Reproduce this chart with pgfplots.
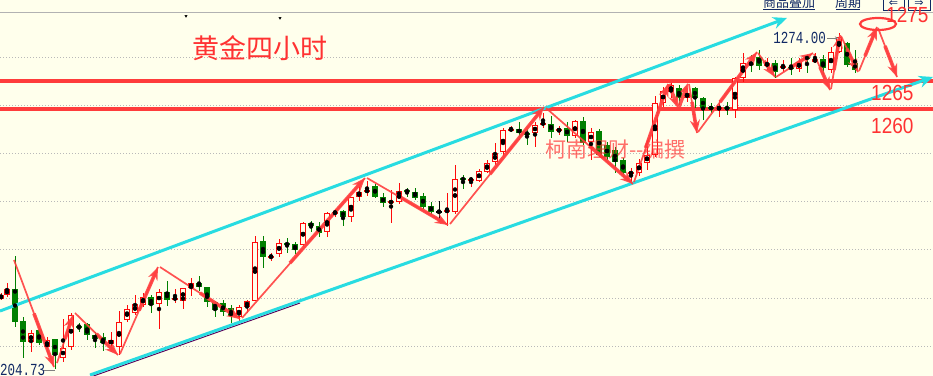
\documentclass[border=0pt]{standalone}
\usepackage{pgfplots}
\pgfplotsset{compat=1.18}
\usepackage{pgfplotstable}
\usepackage{graphicx}
\usepackage{fontspec}
\usetikzlibrary{arrows.meta}
\setmainfont{Liberation Sans}
\newfontfamily\cjk{Noto Sans CJK SC}
\newfontfamily\mono{Liberation Mono}
\newfontfamily\dejavu{DejaVu Sans}
\definecolor{bgc}{RGB}{255,255,236}
\definecolor{upred}{RGB}{255,10,10}
\definecolor{dngreen}{RGB}{0,128,0}
\definecolor{chan}{RGB}{40,220,225}
\definecolor{hline}{RGB}{255,60,60}
\definecolor{arrred}{RGB}{255,64,64}
\definecolor{txtred}{RGB}{255,50,50}
\definecolor{navy}{RGB}{16,40,100}

% candles in picture units: x, body top, body bottom, high, low (y grows downward)
\pgfplotstableread{
x t b h l
1 295 299 293 300
7 289 295 283 297
31 333 342 330 352
47 340 347 337 353
63 348 358 319 362
71 315 347 313 350
111 340 344 332 352
119 322 347 311 355
127 309 320 305 322
135 304 313 295 315
143 297 305 293 307
159 292 304 289 329
175 298 299 289 303
183 288 301 288 309
191 283 288 278 296
239 307 317 305 322
247 301 307 300 313
255 242 301 236 301
271 256 257 253 261
279 243 254 239 257
303 223 245 222 247
327 213 232 212 237
335 212 213 209 217
351 197 217 197 222
359 192 197 186 201
367 190 192 181 196
391 201 203 190 223
399 191 202 183 204
447 210 212 193 226
455 179 212 165 214
471 179 180 177 187
479 171 181 169 182
487 163 172 160 173
495 153 162 143 165
503 130 152 128 158
511 129 130 126 132
535 125 133 122 147
543 123 124 113 128
559 129 131 126 135
575 121 136 120 138
591 132 142 128 160
631 172 174 168 183
639 163 173 159 176
647 155 163 147 170
655 103 155 96 157
663 91 103 87 107
671 85 92 83 98
687 93 98 88 102
719 107 109 100 117
735 78 110 77 118
743 63 78 53 82
767 63 66 58 70
783 66 68 60 72
799 62 69 58 72
815 59 62 53 63
831 52 70 47 73
839 37 52 33 53
}\up

\pgfplotstableread{
x t b h l
15 289 322 256 327
23 321 342 317 358
39 330 343 330 345
55 339 355 339 369
79 326 327 323 332
87 324 335 323 340
95 335 339 332 348
103 337 343 333 351
151 297 305 295 313
167 292 300 281 306
199 283 287 276 291
207 287 302 287 307
215 302 310 301 317
223 303 312 300 316
231 308 316 305 323
263 241 257 236 268
287 243 245 238 253
295 244 250 242 254
311 223 226 221 232
319 226 233 222 237
343 211 217 210 226
375 186 197 184 198
383 197 203 193 207
407 190 192 188 197
415 192 198 188 200
423 196 207 193 209
431 206 212 202 215
463 178 180 175 189
519 129 133 122 140
527 133 134 128 145
551 124 132 116 138
567 128 136 122 142
583 121 143 117 145
599 131 155 129 157
607 145 157 142 160
615 150 162 147 173
623 160 173 158 177
679 88 98 85 105
695 88 98 87 108
703 98 108 97 120
711 107 109 103 113
727 107 109 102 115
751 63 65 55 72
759 57 66 50 70
775 63 72 60 78
791 67 69 58 75
807 57 59 55 73
823 59 68 55 75
847 43 65 42 67
855 63 70 50 73
}\down

\pgfplotstableread{
x t b h l
439 212 212 201 222
}\doji

\pgfplotsset{
  ebar/.style 2 args={forget plot, only marks, mark=none,
    error bars/.cd, y dir=both, y explicit, error mark=none,
    error bar style={line width=#1, color=#2}},
  arr/.style={forget plot, arrred, opacity=0.9, line width=1.7bp},
  arrh/.style={forget plot, arrred, opacity=0.9, line width=3.6bp,
    -{Stealth[length=13bp,width=10bp]}},
}

\begin{document}
\begin{tikzpicture}
\begin{axis}[
  width=933bp, height=376bp, scale only axis,
  xmin=0, xmax=933, ymin=0, ymax=376, y dir=reverse,
  axis line style={draw=none},
  xtick=\empty, ytick={57,105.5,153.5,201,249.5,298,346},
  yticklabels={}, major tick length=0pt,
  ymajorgrids, grid style={gray!55, dash pattern=on 1bp off 2bp, line width=0.7bp},
  axis background/.style={fill=bgc},
  clip=true,
]
% top border line
\addplot[forget plot, gray!60, line width=1bp] coordinates {(0,13) (933,13)};

% horizontal support lines
\addplot[forget plot, hline, line width=3.8bp] coordinates {(0,81) (933,81)};
\addplot[forget plot, hline, line width=3.8bp] coordinates {(0,109) (933,109)};

% wicks
\addplot[ebar={1bp}{upred}] table[x=x, y expr={(\thisrow{h}+\thisrow{l})/2}, y error expr={(\thisrow{l}-\thisrow{h})/2}] {\up};
\addplot[ebar={1bp}{dngreen}] table[x=x, y expr={(\thisrow{h}+\thisrow{l})/2}, y error expr={(\thisrow{l}-\thisrow{h})/2}] {\down};
\addplot[ebar={1bp}{black}] table[x=x, y expr={(\thisrow{h}+\thisrow{l})/2}, y error expr={(\thisrow{l}-\thisrow{h})/2}] {\doji};
% bodies
\addplot[ebar={6bp}{upred}] table[x=x, y expr={(\thisrow{t}+\thisrow{b})/2}, y error expr={max((\thisrow{b}-\thisrow{t})/2,0.6)}] {\up};
\addplot[ebar={4bp}{bgc}] table[x=x, y expr={(\thisrow{t}+\thisrow{b})/2}, y error expr={max((\thisrow{b}-\thisrow{t})/2-1,0)}] {\up};
\addplot[ebar={6bp}{dngreen}] table[x=x, y expr={(\thisrow{t}+\thisrow{b})/2}, y error expr={max((\thisrow{b}-\thisrow{t})/2,0.6)}] {\down};
\addplot[ebar={6bp}{black}] table[x=x, y expr={(\thisrow{t}+\thisrow{b})/2}, y error expr={max((\thisrow{b}-\thisrow{t})/2,0.6)}] {\doji};

% channel lines
\addplot[forget plot, violet!70!black, line width=1bp] coordinates {(90,377.2) (300,303)};
\addplot[forget plot, chan, line width=3bp, -{Stealth[length=14bp,width=12bp]}] coordinates {(0,311) (787,18)};
\addplot[forget plot, chan, line width=3bp, -{Stealth[length=14bp,width=12bp]}] coordinates {(90,375) (933,77)};

% hand-drawn zigzag arrows
\addplot[arr] coordinates {(14,260) (54,367)};   \addplot[arrh] coordinates {(34,313.5) (54,367)};
\addplot[arr] coordinates {(57,363) (73,315)};   \addplot[arrh] coordinates {(65,339) (73,315)};
\addplot[arr] coordinates {(75,313) (118,355)};  \addplot[arrh] coordinates {(96.5,334) (118,355)};
\addplot[arr] coordinates {(120,354) (158,267)}; \addplot[arrh] coordinates {(139,310.5) (158,267)};
\addplot[arr] coordinates {(160,267) (240,319)}; \addplot[arrh] coordinates {(200,293) (240,319)};
\addplot[arr] coordinates {(242,318) (365,178)}; \addplot[arrh] coordinates {(290,263) (365,178)};
\addplot[arr] coordinates {(367,178) (448,225)}; \addplot[arrh] coordinates {(400,197) (448,225)};
\addplot[arr] coordinates {(450,224) (544,107)}; \addplot[arrh] coordinates {(490,174) (544,107)};
\addplot[arr] coordinates {(546,108) (633,184)}; \addplot[arrh] coordinates {(589.5,146) (633,184)};
\addplot[arr] coordinates {(634,182) (668,84)};  \addplot[arrh] coordinates {(646,147) (668,84)};
\addplot[arrh] coordinates {(669,84) (678,108)};
\addplot[arrh] coordinates {(679,107) (688,83)};
\addplot[arr] coordinates {(689,84) (697,133)};  \addplot[arrh] coordinates {(692,102) (697,133)};
\addplot[arr] coordinates {(698,132) (757,52)};  \addplot[arrh] coordinates {(720,102) (757,52)};
\addplot[arr] coordinates {(758,53) (775,77)};   \addplot[arrh] coordinates {(764,61) (775,77)};
\addplot[arr] coordinates {(776,77) (813,53)};   \addplot[arrh] coordinates {(790,68) (813,53)};
\addplot[arr] coordinates {(814,54) (830,90)};   \addplot[arrh] coordinates {(820,67) (830,90)};
\addplot[arr] coordinates {(831,89) (840,35)};   \addplot[arrh] coordinates {(834,70) (840,35)};
\addplot[arr] coordinates {(841,36) (858,72)};   \addplot[arrh] coordinates {(847,49) (858,72)};
\addplot[arr] coordinates {(859,71) (877,27)};   \addplot[arrh] coordinates {(865,56) (877,27)};
\addplot[arr] coordinates {(878,28) (897,77)};   \addplot[arrh] coordinates {(885,46) (897,77)};

% target ellipse
\draw[hline, line width=2.2bp] (axis cs:878,24) ellipse [x radius=18bp, y radius=6bp];

% small price markers
\addplot[forget plot, gray, line width=0.8bp, -{Stealth[length=3bp,width=3bp]}] coordinates {(827,38) (838,38)};
\addplot[forget plot, gray, line width=0.8bp] coordinates {(43,370) (55,370)};
\addplot[forget plot, only marks, mark=triangle*, mark size=1.3bp, black, mark options={rotate=180}] coordinates {(186,16) (280,18)};

% texts
\node[anchor=center, text=txtred, inner sep=0] at (axis cs:260,48) {\cjk\fontsize{27bp}{27bp}\selectfont 黄金四小时};
\node[anchor=west, text=txtred, opacity=0.7, inner sep=0] at (axis cs:545,149) {\cjk\fontsize{21bp}{21bp}\selectfont 柯南理财--编撰};
\node[anchor=east, text=navy, inner sep=0] at (axis cs:826,38) {\scalebox{1}[1.35]{\mono\fontsize{12.5bp}{12.5bp}\selectfont 1274.00}};
\node[anchor=west, text=navy, inner sep=0] at (axis cs:0,370) {\scalebox{1}[1.35]{\mono\fontsize{12.5bp}{12.5bp}\selectfont 204.73}};

% header
\node[anchor=center, text=navy, inner sep=0] at (axis cs:789,3) {\cjk\fontsize{13bp}{13bp}\selectfont 商品叠加};
\node[anchor=center, text=navy, inner sep=0] at (axis cs:848,3) {\cjk\fontsize{13bp}{13bp}\selectfont 周期};
\addplot[forget plot, navy, line width=0.8bp] coordinates {(763,9.5) (815,9.5)};
\addplot[forget plot, navy, line width=0.8bp] coordinates {(836,9.5) (860,9.5)};
\draw[navy, line width=0.8bp] (axis cs:883,-3) rectangle (axis cs:904,10);
\draw[navy, line width=0.8bp] (axis cs:908,-3) rectangle (axis cs:930,10);
\node[text=navy, inner sep=0] at (axis cs:893.5,4) {\dejavu\fontsize{11bp}{11bp}\selectfont ⇐};
\node[text=navy, inner sep=0] at (axis cs:919,4) {\dejavu\fontsize{11bp}{11bp}\selectfont ⇒};

% level labels
\node[anchor=west, text=txtred, inner sep=0] at (axis cs:886,14.5) {\scalebox{1}[1.15]{\fontsize{19bp}{19bp}\selectfont 1275}};
\node[anchor=west, text=txtred, inner sep=0] at (axis cs:871,92.5) {\scalebox{1}[1.15]{\fontsize{19bp}{19bp}\selectfont 1265}};
\node[anchor=west, text=txtred, inner sep=0] at (axis cs:871,126) {\scalebox{1}[1.15]{\fontsize{19bp}{19bp}\selectfont 1260}};
\end{axis}
\pgfresetboundingbox
\useasboundingbox (current axis.south west) rectangle (current axis.north east);
\end{tikzpicture}
\end{document}
